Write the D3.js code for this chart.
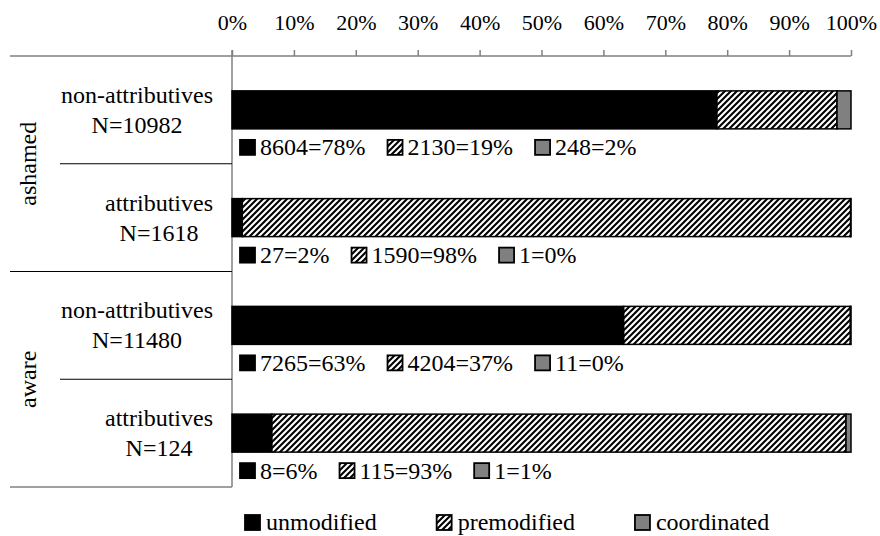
<!DOCTYPE html>
<html>
<head>
<meta charset="utf-8">
<script src="https://cdn.jsdelivr.net/npm/d3@7/dist/d3.min.js"></script>
<style>
  html, body { margin: 0; padding: 0; background: #fff; }
</style>
</head>
<body>
<svg id="chart" width="880" height="536"></svg>
<script>
// ---- data ----
const groups = ["ashamed", "ashamed", "aware", "aware"];
const groupNames = ["ashamed", "aware"];
const categories = ["non-attributives", "attributives", "non-attributives", "attributives"];
const totals = [10982, 1618, 11480, 124];
const seriesNames = ["unmodified", "premodified", "coordinated"];
const unmodified = [8604, 27, 7265, 8];
const premodified = [2130, 1590, 4204, 115];
const coordinated = [248, 1, 11, 1];
const tickValues = [0, 0.1, 0.2, 0.3, 0.4, 0.5, 0.6, 0.7, 0.8, 0.9, 1.0];

const seriesValues = [unmodified, premodified, coordinated];
const FONT = "Liberation Serif";

const svg = d3.select("#chart");

function txt(sel, size) {
  return sel.style("font-family", FONT).style("font-size", size + "px").attr("fill", "#000");
}

// pattern
const defs = svg.append("defs");
const pat = defs.append("pattern")
  .attr("id", "hatch").attr("patternUnits", "userSpaceOnUse")
  .attr("width", 6).attr("height", 6);
pat.append("rect").attr("width", 6).attr("height", 6).attr("fill", "#fff");
pat.append("path").attr("d", "M-1,1 l2,-2 M0,6 l6,-6 M5,7 l2,-2")
  .attr("stroke", "#000").attr("stroke-width", 2.1);

const fills = ["#000", "url(#hatch)", "#808080"];

// scales
const x = d3.scaleLinear().domain([0, 1]).range([232, 851]);
const rowIdx = d3.range(categories.length);
const y = d3.scaleBand().domain(rowIdx).range([56, 487]).padding(0);
const barH = 38;

// axis
const axis = d3.axisTop(x).tickValues(tickValues).tickFormat(d3.format(".0%"))
  .tickSize(6).tickSizeOuter(0).tickPadding(20);
const gAxis = svg.append("g").attr("transform", "translate(0,56)").call(axis)
  .attr("font-family", FONT).attr("font-size", 22);
gAxis.select(".domain").remove();
gAxis.selectAll(".tick line").attr("stroke", "#808080").attr("stroke-width", 1.5);
txt(gAxis.selectAll(".tick text"), 22);

// frame lines
const lineG = svg.append("g");
lineG.append("line").attr("x1", 10).attr("x2", x(1)).attr("y1", 56).attr("y2", 56)
  .attr("stroke", "#808080").attr("stroke-width", 1.5);
lineG.append("line").attr("x1", x(0)).attr("x2", x(0)).attr("y1", 50).attr("y2", 487)
  .attr("stroke", "#808080").attr("stroke-width", 1.5);
lineG.append("line").attr("x1", 10).attr("x2", x(0)).attr("y1", 487).attr("y2", 487)
  .attr("stroke", "#808080").attr("stroke-width", 1.5);
// separators
rowIdx.slice(1).forEach(i => {
  const yy = y(i);
  const isGroupBreak = groups[i] !== groups[i - 1];
  lineG.append("line").attr("x1", isGroupBreak ? 10 : 60).attr("x2", x(0))
    .attr("y1", yy).attr("y2", yy).attr("stroke", "#000").attr("stroke-width", 1);
});

// group labels (rotated)
groupNames.forEach(g => {
  const rows = rowIdx.filter(i => groups[i] === g);
  const y0 = y(rows[0]), y1 = y(rows[rows.length - 1]) + y.bandwidth();
  const cy = (y0 + y1) / 2;
  txt(svg.append("text"), 24)
    .attr("transform", `translate(36,${cy}) rotate(-90)`)
    .attr("text-anchor", "middle")
    .text(g);
});

// category labels
rowIdx.forEach(i => {
  const cy = y(i) + y.bandwidth() / 2;
  const g = svg.append("g");
  const t1 = txt(g.append("text"), 24).attr("y", cy - 7).text(categories[i]);
  const t2 = txt(g.append("text"), 24).attr("y", cy + 23).text("N=" + totals[i]);
  const w = Math.max(t1.node().getComputedTextLength(), t2.node().getComputedTextLength());
  const cx = 213 - w / 2;
  t1.attr("x", cx).attr("text-anchor", "middle");
  t2.attr("x", cx).attr("text-anchor", "middle");
});

// bars
rowIdx.forEach(i => {
  const cy = y(i) + y.bandwidth() / 2;
  const top = cy - barH / 2;
  let cum = 0;
  const segs = seriesValues.map((vals, s) => {
    const v = vals[i] / totals[i];
    const seg = { s, x0: cum, x1: cum + v };
    cum += v;
    return seg;
  });
  const g = svg.append("g");
  g.selectAll("rect").data(segs.filter(d => d.x1 > d.x0)).join("rect")
    .attr("x", d => x(d.x0)).attr("y", top)
    .attr("width", d => x(d.x1) - x(d.x0)).attr("height", barH)
    .attr("fill", d => fills[d.s])
    .attr("stroke", "#000").attr("stroke-width", 1.5);

  // data labels under bar
  const bottom = top + barH;
  let cx = 240;
  seriesValues.forEach((vals, s) => {
    const pct = Math.round(vals[i] / totals[i] * 100);
    g.append("rect").attr("x", cx).attr("y", bottom + 11).attr("width", 15).attr("height", 15)
      .attr("fill", fills[s]).attr("stroke", "#000").attr("stroke-width", 1.8);
    const t = txt(g.append("text"), 24).attr("x", cx + 20).attr("y", bottom + 26.5)
      .text(vals[i] + "=" + pct + "%");
    cx += 20 + t.node().getComputedTextLength() + 22;
  });
});

// legend
let lx = 245;
seriesNames.forEach((name, s) => {
  svg.append("rect").attr("x", lx).attr("y", 515).attr("width", 15).attr("height", 15)
    .attr("fill", fills[s]).attr("stroke", "#000").attr("stroke-width", 1.8);
  const t = txt(svg.append("text"), 24).attr("x", lx + 21).attr("y", 530).text(name);
  lx += 21 + t.node().getComputedTextLength() + 60;
});
</script>
</body>
</html>
